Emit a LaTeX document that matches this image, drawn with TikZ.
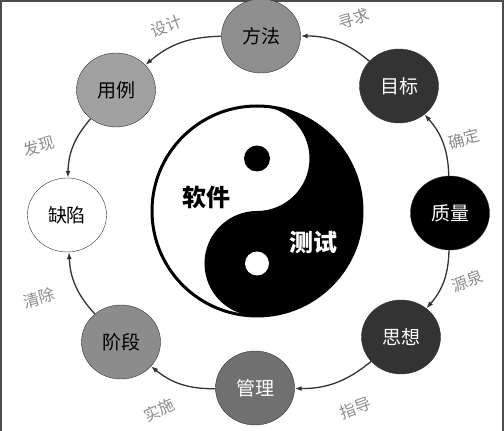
\documentclass[tikz,border=0pt]{standalone}
\usepackage{fontspec}
\newfontfamily\cjk{Noto Sans CJK SC}
\usepackage{tikz}
\usetikzlibrary{arrows.meta,shapes.geometric}

\begin{document}
\begin{tikzpicture}[
    x=1pt, y=1pt,
    font=\cjk\fontsize{19}{19}\selectfont,
    stage/.style={ellipse, draw=black!80, thin, minimum width=79pt, minimum height=74pt, inner sep=0pt},
    edgelabel/.style={text=black!45, inner sep=1pt, font=\cjk\fontsize{16}{16}\selectfont},
    bigtext/.style={font=\cjk\bfseries\fontsize{24}{24}\selectfont},
    arrow/.style={-{Latex[length=7pt,width=5pt]}, line width=1.3pt, draw=black!80}
  ]
    \useasboundingbox (0,0) rectangle (504,431);
    \draw[line width=2pt, black!70] (1,0) -- (1,430) -- (503,430) -- (503,0);
    % taiji in the middle
    \fill[white] (257,220) circle (105);
    \fill[black] (257,325) arc[start angle=90, end angle=-90, radius=105]
      arc[start angle=-90, end angle=-270, radius=52.5]
      arc[start angle=-90, end angle=90, radius=52.5] -- cycle;
    \draw[line width=3pt] (257,220) circle (105);
    \fill[black] (257,272.5) circle (13);
    \fill[white] (257,167.5) circle (12);
    \node[bigtext] (soft) at (206,234) {软件};
    \node[bigtext, text=white] (test) at (313,189) {测试};
    % ring of stages
    \foreach \n/\x/\y/\fc/\tc/\s in {fangfa/261/395/black!44/black/方法,
        yongli/116/341/black!37/black/用例,
        mubiao/399/345/black!80/white/目标,
        zhiliang/450/218/black/white/质量,
        sixiang/401/94/black!80/white/思想,
        guanli/255/43/black!56/white/管理,
        jieduan/121/89/black!45/black/阶段,
        quexian/67/216/white/black/缺陷} {
      \node[stage, fill=\fc, text=\tc] (\n) at (\x,\y) {\s};
    }
    \foreach \a/\b/\ang in {fangfa/yongli/-20, mubiao/fangfa/-20,
        zhiliang/mubiao/-20, zhiliang/sixiang/20, sixiang/guanli/20,
        guanli/jieduan/20, jieduan/quexian/20, yongli/quexian/-20} {
      \draw[arrow] (\a) to[bend left=\ang] (\b);
    }
    \foreach \n/\x/\y/\r/\s in {l1/166/405/20/设计, l2/354/412/18/寻求,
        l3/39/285/15/发现, l4/464/292/15/确定, l5/467/150/20/源泉,
        l6/355/23/20/指导, l7/159/21/25/实施, l8/39/133/15/清除} {
      \node[edgelabel, rotate=\r] (\n) at (\x,\y) {\s};
    }
  \end{tikzpicture}
\end{document}
